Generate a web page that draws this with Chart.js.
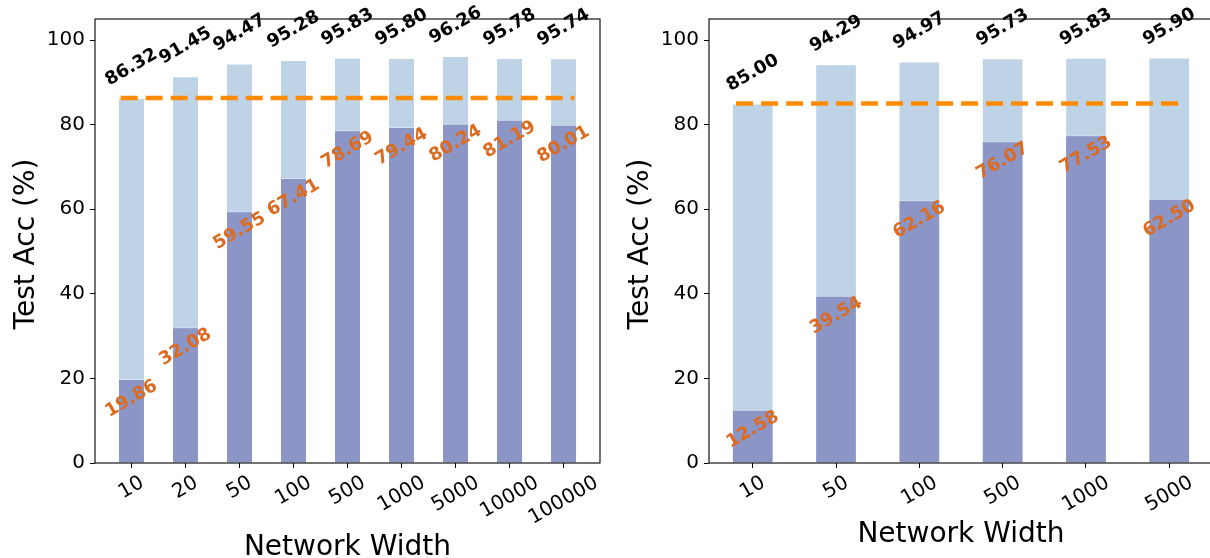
<!DOCTYPE html>
<html>
<head>
<meta charset="utf-8">
<script src="https://cdn.jsdelivr.net/npm/chart.js@4/dist/chart.umd.min.js"></script>
<style>
  html, body { margin: 0; padding: 0; background: #fff; overflow: hidden; width: 1210px; height: 558px; }
  .panel { position: absolute; top: 0; }
  #panelA { left: 0; }
  #panelB { left: 605px; }
</style>
</head>
<body>
<div class="panel" id="panelA"><canvas id="chartA" width="605" height="558"></canvas></div>
<div class="panel" id="panelB"><canvas id="chartB" width="625" height="558"></canvas></div>
<script>
// Left panel: accuracy by network width
const widthsA = ['10', '20', '50', '100', '500', '1000', '5000', '10000', '100000'];
const bestAccA = [86.32, 91.45, 94.47, 95.28, 95.83, 95.80, 96.26, 95.78, 95.74];
const innerAccA = [19.86, 32.08, 59.55, 67.41, 78.69, 79.44, 80.24, 81.19, 80.01];
const baselineA = 86.32;

// Right panel: accuracy by network width
const widthsB = ['10', '50', '100', '500', '1000', '5000'];
const bestAccB = [85.00, 94.29, 94.97, 95.73, 95.83, 95.90];
const innerAccB = [12.58, 39.54, 62.16, 76.07, 77.53, 62.50];
const baselineB = 85.00;

const yTicks = [0, 20, 40, 60, 80, 100];
const yMax = 105;

const FONT = "'DejaVu Sans', 'Liberation Sans', sans-serif";
const LIGHT = '#bfd3e6';
const DARK = '#8c96c6';
const ORANGE_LINE = '#ff8c00';
const ORANGE_TEXT = '#dc6b1f';

const TICK_SIZE = 20;
const TITLE_SIZE = 28;
const VALUE_SIZE = 18;
const ROT = 30 * Math.PI / 180;

// Draw text rotated about the centre of its box
function rotatedText(ctx, text, cx, cy, size) {
  ctx.save();
  ctx.translate(cx, cy);
  ctx.rotate(-ROT);
  ctx.textAlign = 'center';
  ctx.textBaseline = 'alphabetic';
  ctx.fillText(text, 0, 0.26 * size);
  ctx.restore();
}
function rotatedHeight(ctx, text, size) {
  return ctx.measureText(text).width * Math.sin(ROT) + size * Math.cos(ROT);
}

function makeChart(canvasId, labels, best, inner, baseline, layout) {
  const n = labels.length;
  const span = (n - 1) + 0.5;
  const margin = 0.05 * span;
  const xMin = -0.25 - margin;
  const xMax = (n - 1) + 0.25 + margin;

  const decorations = {
    id: 'decorations',
    afterDraw(chart) {
      const { ctx, chartArea: a, scales: { x, y } } = chart;
      ctx.save();

      // axes frame
      ctx.strokeStyle = '#000';
      ctx.lineWidth = 1.1;
      ctx.strokeRect(a.left, a.top, a.right - a.left, a.bottom - a.top);

      // value annotations
      ctx.font = `bold ${VALUE_SIZE}px ${FONT}`;
      best.forEach((v, i) => {
        const H = rotatedHeight(ctx, v.toFixed(2), VALUE_SIZE);
        ctx.fillStyle = '#000';
        rotatedText(ctx, v.toFixed(2), x.getPixelForValue(i), y.getPixelForValue(v + 2) - H / 2, VALUE_SIZE);
      });
      inner.forEach((v, i) => {
        const H = rotatedHeight(ctx, v.toFixed(2), VALUE_SIZE);
        ctx.fillStyle = ORANGE_TEXT;
        rotatedText(ctx, v.toFixed(2), x.getPixelForValue(i), y.getPixelForValue(v + 0.5) + H / 2, VALUE_SIZE);
      });

      // x tick labels, rotated and centred on the ticks
      ctx.font = `${TICK_SIZE}px ${FONT}`;
      ctx.fillStyle = '#000';
      let maxH = 0;
      labels.forEach((lab, i) => {
        const H = rotatedHeight(ctx, lab, TICK_SIZE);
        maxH = Math.max(maxH, H);
        rotatedText(ctx, lab, x.getPixelForValue(i), a.bottom + 9.8 + H / 2, TICK_SIZE);
      });

      // axis titles
      ctx.font = `${TITLE_SIZE}px ${FONT}`;
      ctx.textAlign = 'center';
      ctx.textBaseline = 'alphabetic';
      ctx.fillText('Network Width', (a.left + a.right) / 2, a.bottom + 9.8 + maxH + 5.6 + 0.76 * TITLE_SIZE);

      ctx.save();
      ctx.translate(a.left - 61, (a.top + a.bottom) / 2 + 3);
      ctx.rotate(-Math.PI / 2);
      ctx.fillText('Test Acc (%)', 0, 0);
      ctx.restore();

      ctx.restore();
    }
  };

  return new Chart(document.getElementById(canvasId), {
    type: 'bar',
    data: {
      datasets: [
        {
          type: 'line',
          data: [{ x: -0.2, y: baseline }, { x: (n - 1) + 0.2, y: baseline }],
          borderColor: ORANGE_LINE,
          borderWidth: 4.5,
          borderDash: [17, 8],
          pointRadius: 0,
          fill: false,
          order: 0
        },
        {
          data: inner.map((v, i) => ({ x: i, y: v })),
          backgroundColor: DARK,
          borderColor: 'rgba(255,255,255,0.35)',
          borderWidth: 1,
          grouped: false,
          barPercentage: 0.5,
          categoryPercentage: 1.0,
          order: 1
        },
        {
          data: best.map((v, i) => ({ x: i, y: v })),
          backgroundColor: LIGHT,
          borderColor: 'rgba(255,255,255,0.35)',
          borderWidth: 1,
          grouped: false,
          barPercentage: 0.5,
          categoryPercentage: 1.0,
          order: 2
        }
      ]
    },
    options: {
      responsive: false,
      devicePixelRatio: 1,
      animation: false,
      events: [],
      layout: { padding: { left: 0, right: layout.padRight, top: 19, bottom: 0 } },
      plugins: { legend: { display: false }, tooltip: { enabled: false } },
      scales: {
        x: {
          type: 'linear',
          offset: false,
          min: xMin,
          max: xMax,
          afterBuildTicks: (scale) => { scale.ticks = labels.map((_, i) => ({ value: i })); },
          afterFit: (scale) => { scale.height = 95; },
          ticks: { display: false },
          grid: { offset: false, drawOnChartArea: false, drawTicks: true, tickLength: 5, tickColor: '#000', tickWidth: 1 },
          border: { display: false }
        },
        y: {
          type: 'linear',
          min: 0,
          max: yMax,
          afterBuildTicks: (scale) => { scale.ticks = yTicks.map(v => ({ value: v })); },
          afterFit: (scale) => { scale.width = layout.yWidth; },
          ticks: { color: '#000', padding: 5, font: { family: FONT, size: TICK_SIZE } },
          grid: { drawOnChartArea: false, drawTicks: true, tickLength: 5, tickColor: '#000', tickWidth: 1 },
          border: { display: false }
        }
      }
    },
    plugins: [decorations]
  });
}

makeChart('chartA', widthsA, bestAccA, innerAccA, baselineA, { yWidth: 95, padRight: 5 });
makeChart('chartB', widthsB, bestAccB, innerAccB, baselineB, { yWidth: 104, padRight: 17 });
</script>
</body>
</html>
